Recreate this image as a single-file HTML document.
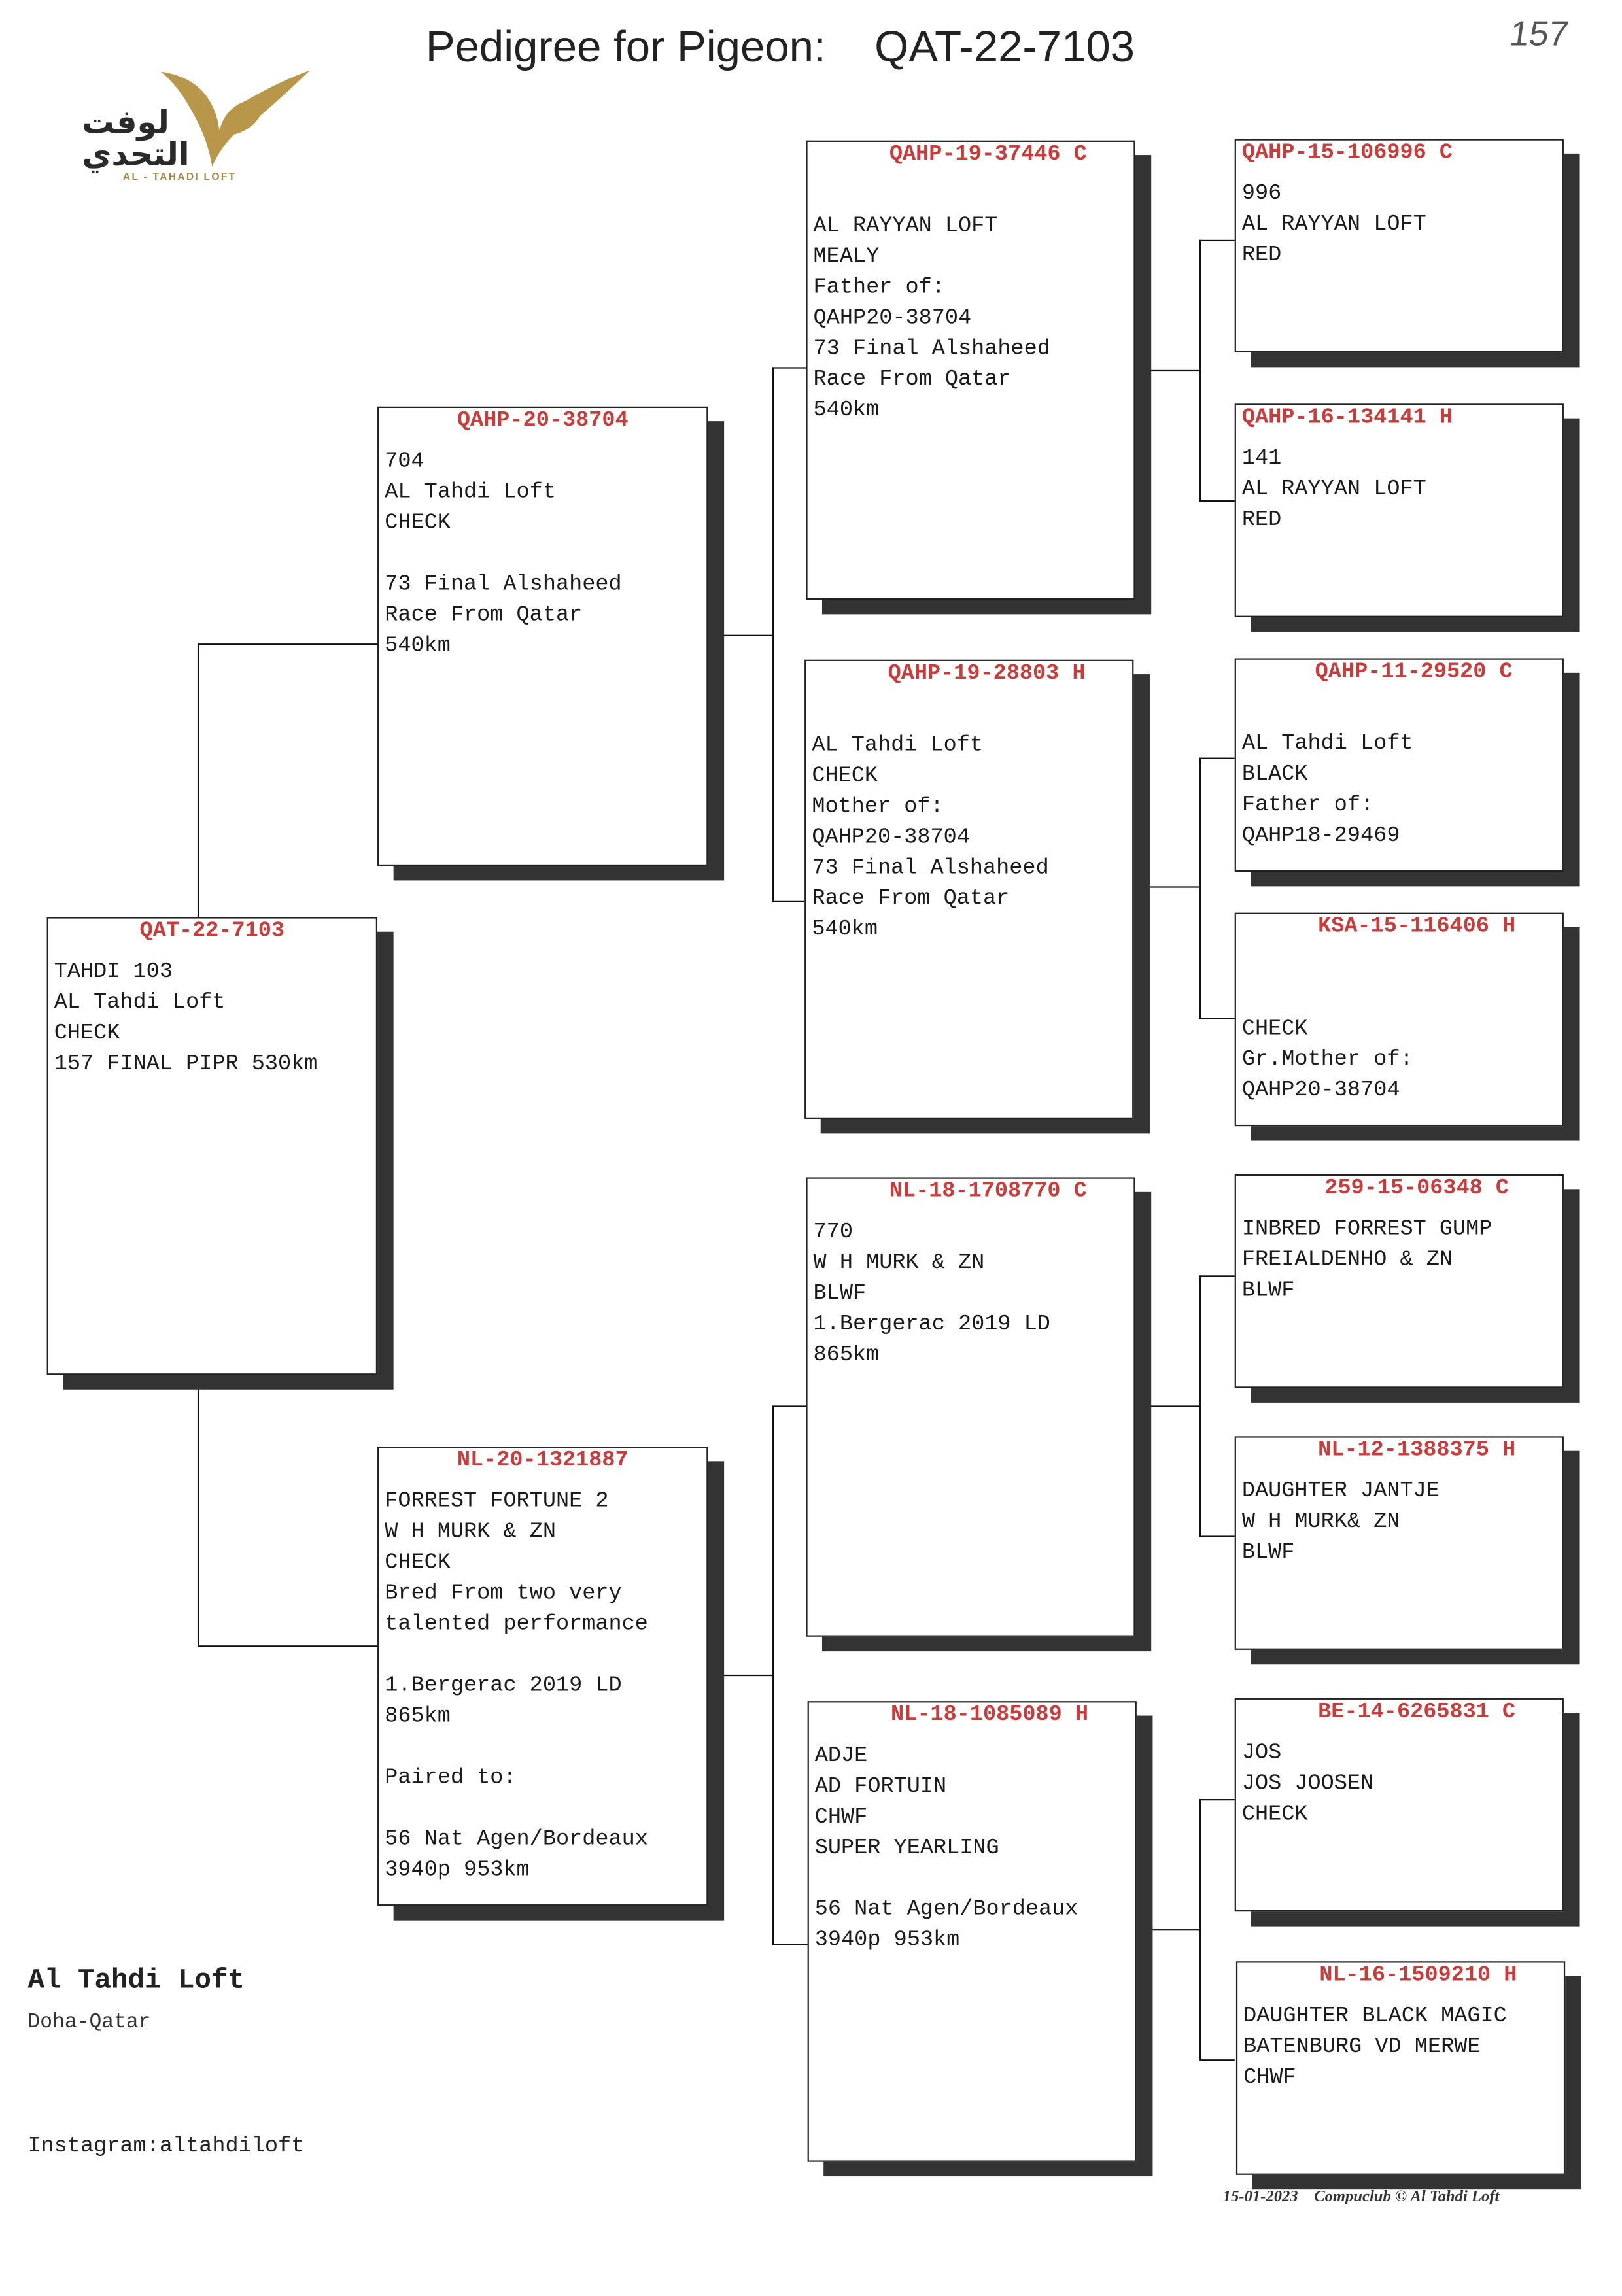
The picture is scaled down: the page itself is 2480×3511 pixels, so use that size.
<!DOCTYPE html>
<html><head><meta charset="utf-8">
<style>
html,body{margin:0;padding:0;background:#fff;}
body{width:2480px;height:3507px;overflow:hidden;position:relative;}
#c{position:absolute;left:0;top:0;width:1110px;height:1570px;transform:scale(2.2366);transform-origin:0 0;}
.b{position:absolute;border:1.2px solid #222;background:#fff;box-shadow:11px 10px 0 #333;box-sizing:border-box;}
.h{position:absolute;left:0;right:0;top:-2px;text-align:center;font:bold 15px "Liberation Mono",monospace;line-height:21px;color:#c93c3c;white-space:pre;}
.hl{text-align:left;left:4px;}
.t{position:absolute;left:4px;top:26px;font:15px "Liberation Mono",monospace;line-height:21px;color:#1a1a1a;white-space:pre;}
.ln{position:absolute;background:#111;}
.v{width:1.2px;}
.hz{height:1.2px;}
</style></head><body><div id="c">

<div style="position:absolute;left:291px;top:16px;font:30px 'Liberation Sans',sans-serif;color:#222;white-space:pre;">Pedigree for Pigeon:    QAT-22-7103</div>
<div style="position:absolute;left:1032px;top:10px;font:24px 'Liberation Sans',sans-serif;color:#555;transform:skewX(-8deg);">157</div>

<!-- logo -->
<svg style="position:absolute;left:50px;top:44px" width="170" height="90" viewBox="0 0 170 90">
<path d="M60 5 Q95 10 100 45 Q104 30 118 25 Q140 12 162 4 Q140 25 128 35 Q122 45 110 48 Q100 58 95 70 Q92 50 80 30 Q72 15 60 5Z" fill="#b8974a"/>
</svg>
<div style="position:absolute;left:56px;top:74px;font:bold 22px 'DejaVu Sans',sans-serif;color:#2a2a2a;line-height:22px;">لوفت<br>التحدي</div>
<div style="position:absolute;left:84px;top:118px;font:bold 7px 'Liberation Sans',sans-serif;color:#a88a48;letter-spacing:1px;">AL - TAHADI LOFT</div>

<!-- connectors -->
<div class="ln v" style="left:135px;top:440px;height:187px"></div>
<div class="ln hz" style="left:135px;top:440px;width:123px"></div>
<div class="ln v" style="left:135px;top:940px;height:185px"></div>
<div class="ln hz" style="left:135px;top:1125px;width:123px"></div>

<div class="ln hz" style="left:494px;top:434px;width:34px"></div>
<div class="ln v" style="left:528px;top:251px;height:365px"></div>
<div class="ln hz" style="left:528px;top:251px;width:23px"></div>
<div class="ln hz" style="left:528px;top:616px;width:22px"></div>
<div class="ln hz" style="left:494px;top:1145px;width:34px"></div>
<div class="ln v" style="left:528px;top:961px;height:368px"></div>
<div class="ln hz" style="left:528px;top:961px;width:23px"></div>
<div class="ln hz" style="left:528px;top:1329px;width:24px"></div>

<div class="ln hz" style="left:786px;top:253px;width:34px"></div>
<div class="ln v" style="left:820px;top:164px;height:178px"></div>
<div class="ln hz" style="left:820px;top:164px;width:24px"></div>
<div class="ln hz" style="left:820px;top:342px;width:24px"></div>
<div class="ln hz" style="left:786px;top:606px;width:34px"></div>
<div class="ln v" style="left:820px;top:518px;height:178px"></div>
<div class="ln hz" style="left:820px;top:518px;width:24px"></div>
<div class="ln hz" style="left:820px;top:696px;width:24px"></div>
<div class="ln hz" style="left:786px;top:961px;width:34px"></div>
<div class="ln v" style="left:820px;top:872px;height:178px"></div>
<div class="ln hz" style="left:820px;top:872px;width:24px"></div>
<div class="ln hz" style="left:820px;top:1050px;width:24px"></div>
<div class="ln hz" style="left:786px;top:1319px;width:34px"></div>
<div class="ln v" style="left:820px;top:1230px;height:178px"></div>
<div class="ln hz" style="left:820px;top:1230px;width:24px"></div>
<div class="ln hz" style="left:820px;top:1408px;width:24px"></div>

<!-- gen1 -->
<div class="b" style="left:32px;top:627px;width:226px;height:313px"><div class="h">QAT-22-7103</div><div class="t">TAHDI 103
AL Tahdi Loft
CHECK
157 FINAL PIPR 530km</div></div>

<!-- gen2 -->
<div class="b" style="left:258px;top:278px;width:226px;height:314px"><div class="h">QAHP-20-38704</div><div class="t">704
AL Tahdi Loft
CHECK

73 Final Alshaheed
Race From Qatar
540km</div></div>
<div class="b" style="left:258px;top:989px;width:226px;height:314px"><div class="h">NL-20-1321887</div><div class="t">FORREST FORTUNE 2
W H MURK &amp; ZN
CHECK
Bred From two very
talented performance

1.Bergerac 2019 LD
865km

Paired to:

56 Nat Agen/Bordeaux
3940p 953km</div></div>

<!-- gen3 -->
<div class="b" style="left:551px;top:96px;width:225px;height:314px"><div class="h" style="left:24px">QAHP-19-37446 C</div><div class="t">
AL RAYYAN LOFT
MEALY
Father of:
QAHP20-38704
73 Final Alshaheed
Race From Qatar
540km</div></div>
<div class="b" style="left:550px;top:451px;width:225px;height:314px"><div class="h" style="left:24px">QAHP-19-28803 H</div><div class="t">
AL Tahdi Loft
CHECK
Mother of:
QAHP20-38704
73 Final Alshaheed
Race From Qatar
540km</div></div>
<div class="b" style="left:551px;top:805px;width:225px;height:314px"><div class="h" style="left:24px">NL-18-1708770 C</div><div class="t">770
W H MURK &amp; ZN
BLWF
1.Bergerac 2019 LD
865km</div></div>
<div class="b" style="left:552px;top:1163px;width:225px;height:315px"><div class="h" style="left:24px">NL-18-1085089 H</div><div class="t">ADJE
AD FORTUIN
CHWF
SUPER YEARLING

56 Nat Agen/Bordeaux
3940p 953km</div></div>

<!-- gen4 -->
<div class="b" style="left:844px;top:95px;width:225px;height:146px"><div class="h hl">QAHP-15-106996 C</div><div class="t">996
AL RAYYAN LOFT
RED</div></div>
<div class="b" style="left:844px;top:276px;width:225px;height:146px"><div class="h hl">QAHP-16-134141 H</div><div class="t">141
AL RAYYAN LOFT
RED</div></div>
<div class="b" style="left:844px;top:450px;width:225px;height:146px"><div class="h" style="left:20px">QAHP-11-29520 C</div><div class="t">
AL Tahdi Loft
BLACK
Father of:
QAHP18-29469</div></div>
<div class="b" style="left:844px;top:624px;width:225px;height:146px"><div class="h" style="left:24px">KSA-15-116406 H</div><div class="t">

CHECK
Gr.Mother of:
QAHP20-38704</div></div>
<div class="b" style="left:844px;top:803px;width:225px;height:146px"><div class="h" style="left:24px">259-15-06348 C</div><div class="t">INBRED FORREST GUMP
FREIALDENHO &amp; ZN
BLWF</div></div>
<div class="b" style="left:844px;top:982px;width:225px;height:146px"><div class="h" style="left:24px">NL-12-1388375 H</div><div class="t">DAUGHTER JANTJE
W H MURK&amp; ZN
BLWF</div></div>
<div class="b" style="left:844px;top:1161px;width:225px;height:146px"><div class="h" style="left:24px">BE-14-6265831 C</div><div class="t">JOS
JOS JOOSEN
CHECK</div></div>
<div class="b" style="left:845px;top:1341px;width:225px;height:146px"><div class="h" style="left:24px">NL-16-1509210 H</div><div class="t">DAUGHTER BLACK MAGIC
BATENBURG VD MERWE
CHWF</div></div>

<!-- footer -->
<div style="position:absolute;left:19px;top:1343px;font:bold 19px 'Liberation Mono',monospace;color:#222;">Al Tahdi Loft</div>
<div style="position:absolute;left:19px;top:1375px;font:14px 'Liberation Mono',monospace;color:#333;">Doha-Qatar</div>
<div style="position:absolute;left:19px;top:1459px;font:15px 'Liberation Mono',monospace;color:#222;">Instagram:altahdiloft</div>
<div style="position:absolute;left:836px;top:1496px;font:italic bold 11px 'Liberation Serif',serif;color:#333;white-space:pre;">15-01-2023    Compuclub © Al Tahdi Loft</div>
</div></body></html>
